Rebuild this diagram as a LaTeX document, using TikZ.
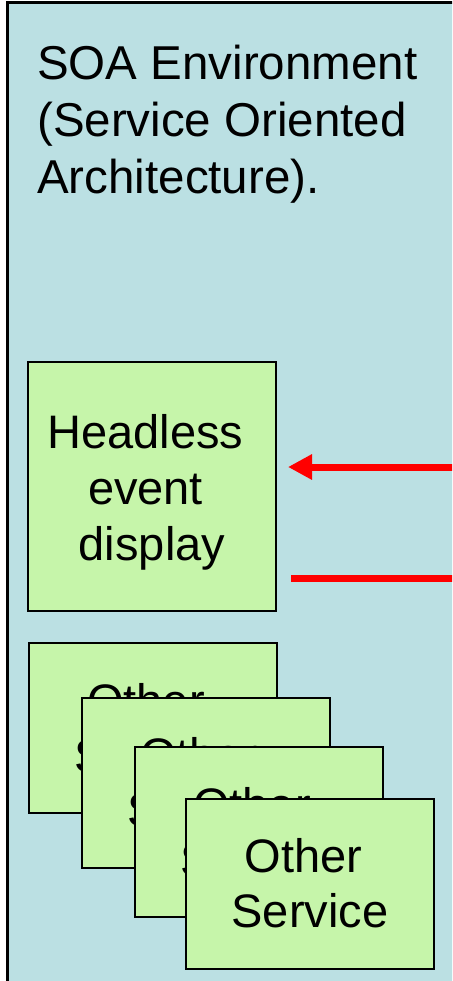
\documentclass[tikz,border=0pt]{standalone}
\usepackage{fontspec}
\setmainfont{Liberation Sans}
\usetikzlibrary{arrows.meta,positioning}
\definecolor{envblue}{RGB}{187,224,227}
\definecolor{svcgreen}{RGB}{198,245,170}
\definecolor{arrred}{RGB}{255,0,0}
\newcommand{\trsp}{\kern13pt}
\tikzset{
  svcbox/.style={draw=black, line width=2pt, fill=svcgreen, minimum width=248pt,
    minimum height=170pt, inner sep=0pt, align=center,
    font=\fontsize{47}{55}\selectfont},
  redline/.style={draw=arrred, line width=7pt},
}
\begin{document}
\begin{tikzpicture}[x=1pt,y=-1pt]
\useasboundingbox (0,0) rectangle (452,981);
\clip (0,0) rectangle (452,981);
\fill[white] (0,0) rectangle (452,981);
\draw[line width=3pt, fill=envblue] (7,3) rectangle (470,1000);
\node[anchor=north west, inner sep=0pt, align=left,
      font=\fontsize{47.5}{57}\selectfont] (title) at (37,45)
  {SOA Environment\\(Service Oriented\\Architecture).};
\node[svcbox, minimum height=249pt, font=\fontsize{47}{56}\selectfont] (hd) at (152,486.5)
  {\rule{0pt}{45pt}Headless\trsp\\event\trsp\\display};
\node[svcbox] (s1) at (152.5,728) {Other\trsp\\Service};
\node[svcbox] (s2) at (205.5,782.5) {Other\trsp\\Service};
\node[svcbox] (s3) at (258.5,832) {Other\trsp\\Service};
\node[svcbox] (s4) at (310,883.5) {Other\trsp\\Service};
\coordinate (in) at (470,467);
\coordinate (out) at (470,578);
\draw[redline, -{Triangle[length=24pt,width=24pt]}, shorten >=11pt] (in) -- (hd.east |- in);
\draw[redline, shorten <=14pt] (hd.east |- out) -- (out);
\end{tikzpicture}
\end{document}
